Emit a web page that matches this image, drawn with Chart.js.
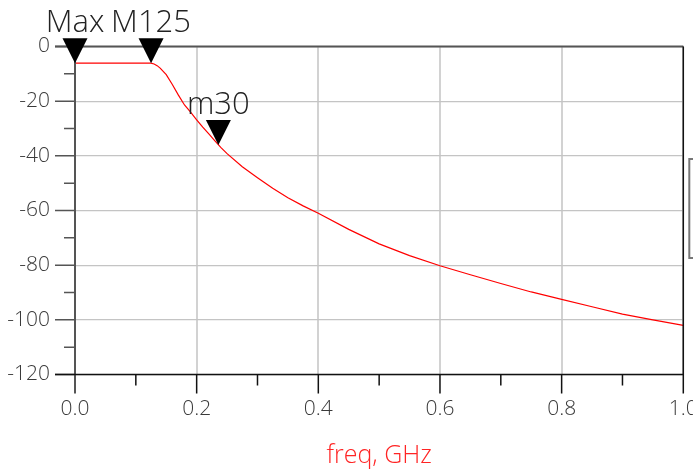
<!DOCTYPE html>
<html>
<head>
<meta charset="utf-8">
<script src="https://cdn.jsdelivr.net/npm/chart.js@4.4.0/dist/chart.umd.min.js"></script>
<style>
	body { margin: 0; background: #fff; }
	#wrap { width: 693px; height: 472px; }
</style>
</head>
<body>
<div id="wrap"><canvas id="mycanvas" width="693" height="472"></canvas></div>
<script>
// S21 magnitude (dB) against frequency (GHz)
var freq = [0, 0.05, 0.1, 0.12, 0.125, 0.13, 0.135, 0.14, 0.15, 0.16, 0.17, 0.18, 0.19, 0.2,
	0.21, 0.22, 0.23, 0.24, 0.25, 0.275, 0.3, 0.325, 0.35, 0.375, 0.4, 0.45, 0.5, 0.55, 0.6,
	0.65, 0.7, 0.75, 0.8, 0.85, 0.9, 0.95, 1.0];
var db = [-6.1, -6.1, -6.1, -6.1, -6.1, -6.4, -7.0, -7.9, -10.3, -13.9, -17.8, -21.4, -24.0, -26.8,
	-29.5, -32.0, -34.5, -37.0, -39.2, -44.0, -48.0, -51.9, -55.3, -58.3, -61.0, -66.9, -72.2, -76.5, -80.2,
	-83.5, -86.7, -89.8, -92.5, -95.2, -97.9, -100.0, -102.0];

// markers
var markerNames = ["Max", "M125", "m30"];
var markerFreq = [0, 0.125, 0.2357];
var markerDb = [-6.1, -6.1, -36.0];

var xTicks = [0, 0.2, 0.4, 0.6, 0.8, 1.0];
var yTicks = [-120, -100, -80, -60, -40, -20, 0];

var points = [];
for (var i in freq) {
	points.push({x: freq[i], y: db[i]});
}

var framePlugin = {
	id: 'frame',
	afterDatasetsDraw: function(chart) {
		var ctx = chart.ctx;
		var a = chart.chartArea;
		var xs = chart.scales.x, ys = chart.scales.y;
		ctx.save();
		// top and left
		ctx.strokeStyle = "#555";
		ctx.lineWidth = 2;
		ctx.beginPath();
		ctx.moveTo(a.left - 20, a.top);
		ctx.lineTo(a.right, a.top);
		ctx.moveTo(a.left, a.top);
		ctx.lineTo(a.left, a.bottom + 19);
		ctx.stroke();
		// y ticks
		ctx.lineWidth = 1.5;
		ctx.beginPath();
		for (var v = -120; v <= 0; v += 10) {
			var y = ys.getPixelForValue(v);
			var len = (v % 20 === 0) ? 20 : 11;
			ctx.moveTo(a.left - len, y);
			ctx.lineTo(a.left, y);
		}
		ctx.stroke();
		// bottom and right
		ctx.strokeStyle = "#111";
		ctx.lineWidth = 1.5;
		ctx.beginPath();
		ctx.moveTo(a.left - 20, a.bottom);
		ctx.lineTo(a.right, a.bottom);
		ctx.moveTo(a.right, a.top);
		ctx.lineTo(a.right, a.bottom + 19);
		for (var k = 1; k <= 10; k++) {
			var x = xs.getPixelForValue(k / 10);
			var tl = (k % 2 === 0) ? 19 : 11;
			ctx.moveTo(x, a.bottom);
			ctx.lineTo(x, a.bottom + tl);
		}
		ctx.stroke();
		// cut-off box at the right edge
		ctx.strokeStyle = "#777";
		ctx.lineWidth = 2;
		ctx.strokeRect(a.right + 6, 159, 30, 99);

		// markers
		ctx.fillStyle = "#000";
		ctx.font = "300 31px 'Open Sans'";
		ctx.textAlign = "center";
		ctx.textBaseline = "alphabetic";
		for (var m in markerNames) {
			var px = xs.getPixelForValue(markerFreq[m]);
			var py = ys.getPixelForValue(markerDb[m]);
			ctx.beginPath();
			ctx.moveTo(px, py);
			ctx.lineTo(px - 12.5, py - 25);
			ctx.lineTo(px + 12.5, py - 25);
			ctx.closePath();
			ctx.fill();
			ctx.fillStyle = "#222";
			ctx.fillText(markerNames[m], px, py - 31);
			ctx.fillStyle = "#000";
		}
		ctx.restore();
	}
};

var tickFont = {family: "'Open Sans'", size: 21, weight: 300};

var ctx = document.getElementById("mycanvas");
var lineGraph = new Chart(ctx, {
	type: 'line',
	data: {
		datasets: [{
			data: points,
			borderColor: "#ff0000",
			borderWidth: 1.2,
			pointRadius: 0,
			tension: 0,
			fill: false
		}]
	},
	options: {
		responsive: false,
		animation: false,
		layout: {padding: {top: 46.5, right: 9.7, left: 0, bottom: 0}},
		plugins: {legend: {display: false}, tooltip: {enabled: false}},
		scales: {
			x: {
				type: 'linear',
				min: 0,
				max: 1,
				afterFit: function(scale) {
					scale.height = 97.5;
					scale.paddingLeft = 0;
					scale.paddingRight = 0;
				},
				afterBuildTicks: function(scale) {
					scale.ticks = xTicks.map(function(v) { return {value: v}; });
				},
				border: {display: false},
				grid: {color: "#d2d2d2", lineWidth: 2, drawTicks: false},
				ticks: {
					padding: 22,
					color: "#3a3a3a",
					font: tickFont,
					maxRotation: 0,
					callback: function(v) { return Number(v).toFixed(1); }
				},
				title: {
					display: true,
					text: "freq, GHz",
					color: "#ff2424",
					font: {family: "'Open Sans'", size: 25, weight: 300},
					padding: {top: 0, bottom: 1}
				}
			},
			y: {
				min: -120,
				max: 0,
				afterFit: function(scale) {
					scale.width = 75;
					scale.paddingTop = 0;
					scale.paddingBottom = 0;
				},
				afterBuildTicks: function(scale) {
					scale.ticks = yTicks.map(function(v) { return {value: v}; });
				},
				border: {display: false},
				grid: {color: "#c4c4c4", lineWidth: 1.2, drawTicks: false},
				ticks: {
					padding: 25,
					color: "#3a3a3a",
					font: tickFont,
					callback: function(v) { return String(v); }
				}
			}
		}
	},
	plugins: [framePlugin]
});
</script>
</body>
</html>
